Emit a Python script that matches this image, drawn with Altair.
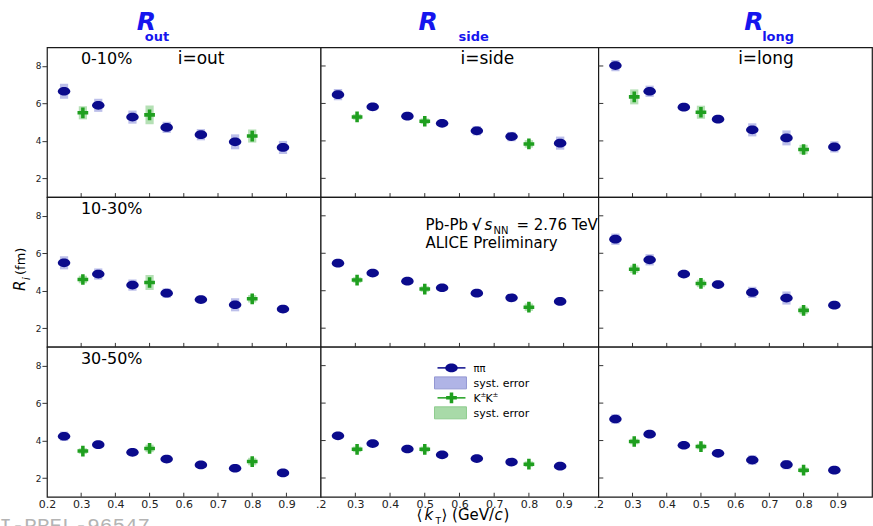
import altair as alt
import pandas as pd

COMPONENTS = ["out", "side", "long"]
CENTRALITIES = ["0-10%", "10-30%", "30-50%"]

# pair transverse momentum <kT> (GeV/c)
kt_pion = [0.25, 0.35, 0.45, 0.55, 0.65, 0.75, 0.89]
kt_kaon = [0.305, 0.50, 0.80]

# pion radii (fm), one list per centrality class
pion_out = [[6.65, 5.90, 5.27, 4.72, 4.33, 3.95, 3.65],
            [5.49, 4.89, 4.30, 3.87, 3.53, 3.25, 3.02],
            [4.23, 3.78, 3.37, 3.01, 2.70, 2.52, 2.27]]
pion_side = [[6.47, 5.82, 5.32, 4.94, 4.54, 4.23, 3.88],
             [5.47, 4.94, 4.51, 4.16, 3.87, 3.62, 3.43],
             [4.25, 3.84, 3.55, 3.24, 3.04, 2.85, 2.63]]
pion_long = [[8.02, 6.65, 5.80, 5.16, 4.59, 4.16, 3.68],
             [6.75, 5.65, 4.89, 4.33, 3.91, 3.61, 3.23],
             [5.15, 4.34, 3.75, 3.32, 2.96, 2.71, 2.42]]

# kaon radii (fm)
kaon_out = [[5.50, 5.39, 4.26], [4.60, 4.44, 3.57], [3.44, 3.58, 2.88]]
kaon_side = [[5.28, 5.05, 3.84], [4.57, 4.09, 3.12], [3.53, 3.53, 2.74]]
kaon_long = [[6.35, 5.53, 3.54], [5.15, 4.39, 2.95], [3.95, 3.68, 2.42]]

# systematic uncertainties (half height, fm)
syst_pion_out = [[0.40, 0.35, 0.35, 0.30, 0.30, 0.40, 0.35],
                 [0.35, 0.30, 0.30, 0.25, 0.20, 0.35, 0.20],
                 [0.25, 0.20, 0.20, 0.20, 0.15, 0.20, 0.15]]
syst_pion_side = [[0.30, 0.20, 0.20, 0.15, 0.25, 0.25, 0.35],
                  [0.20, 0.15, 0.15, 0.15, 0.20, 0.20, 0.20],
                  [0.15, 0.15, 0.15, 0.15, 0.15, 0.15, 0.15]]
syst_pion_long = [[0.30, 0.30, 0.20, 0.20, 0.35, 0.40, 0.30],
                  [0.30, 0.30, 0.15, 0.20, 0.30, 0.35, 0.20],
                  [0.25, 0.20, 0.15, 0.15, 0.25, 0.25, 0.20]]
syst_kaon_out = [[0.35, 0.50, 0.35], [0.20, 0.40, 0.20], [0.15, 0.20, 0.20]]
syst_kaon_side = [[0.15, 0.15, 0.20], [0.15, 0.15, 0.20], [0.15, 0.15, 0.15]]
syst_kaon_long = [[0.40, 0.35, 0.25], [0.20, 0.20, 0.20], [0.15, 0.15, 0.15]]

x_ticks = [0.2, 0.3, 0.4, 0.5, 0.6, 0.7, 0.8, 0.9]
y_ticks = [2, 4, 6, 8]

PION_R = {"out": pion_out, "side": pion_side, "long": pion_long}
KAON_R = {"out": kaon_out, "side": kaon_side, "long": kaon_long}
PION_S = {"out": syst_pion_out, "side": syst_pion_side, "long": syst_pion_long}
KAON_S = {"out": syst_kaon_out, "side": syst_kaon_side, "long": syst_kaon_long}

PANEL_W = [274, 278, 274]
PANEL_H = 150
BOX_HALF = 0.012

PION_COLOR = "#0b0b8c"
KAON_COLOR = "#1f9f1f"
PION_BAND = "#b0b4e6"
KAON_BAND = "#a8daa8"
HEADER_BLUE = "#1515ee"
FONT = "DejaVu Sans"

ELLIPSE = "M -1 0 A 1 0.7 0 1 0 1 0 A 1 0.7 0 1 0 -1 0 Z"
PLUS = ("M -1 -0.33 L -0.33 -0.33 L -0.33 -1 L 0.33 -1 L 0.33 -0.33 L 1 -0.33 "
        "L 1 0.33 L 0.33 0.33 L 0.33 1 L -0.33 1 L -0.33 0.33 L -1 0.33 Z")


def label(text, x, y, size=15, color="black", style="normal", weight="normal",
          angle=0, font=FONT):
    return alt.Chart(pd.DataFrame({"label": [text]})).mark_text(
        align="left", baseline="alphabetic", font=font, fontSize=size,
        color=color, fontStyle=style, fontWeight=weight, angle=angle,
    ).encode(x=alt.value(x), y=alt.value(y), text="label:N")


def series(kt, values, syst):
    return pd.DataFrame({
        "kt": kt,
        "R": values,
        "x_lo": [k - BOX_HALF for k in kt],
        "x_hi": [k + BOX_HALF for k in kt],
        "lo": [v - s for v, s in zip(values, syst)],
        "hi": [v + s for v, s in zip(values, syst)],
    })


def panel(r, c):
    comp = COMPONENTS[c]
    width = PANEL_W[c]
    bottom = r == 2
    left = c == 0

    xs = alt.Scale(domain=[0.2, 1.0], nice=False, zero=False)
    ys = alt.Scale(domain=[1, 9], nice=False, zero=False)
    if bottom:
        expr = ("format(datum.value, '.1f')" if left
                else "datum.value < 0.25 ? '.2' : format(datum.value, '.1f')")
        xaxis = alt.Axis(values=x_ticks, labelExpr=expr, ticks=False, domain=False,
                         grid=False, labelFontSize=11, labelFont=FONT,
                         labelColor="#222222", labelPadding=2, labelFlush=False,
                         labelOverlap=False, title=None)
    else:
        xaxis = None
    if left:
        yaxis = alt.Axis(values=y_ticks, tickSize=5, domain=False, grid=False,
                         labelFontSize=9, labelFont=FONT, labelColor="#222222",
                         labelPadding=1, tickColor="#333333", labelFlush=False,
                         title=None)
    else:
        yaxis = None

    pi = series(kt_pion, PION_R[comp][r], PION_S[comp][r])
    ka = series(kt_kaon, KAON_R[comp][r], KAON_S[comp][r])

    def boxes(df, color):
        return alt.Chart(df).mark_rect(color=color, opacity=0.85).encode(
            x=alt.X("x_lo:Q", scale=xs, axis=xaxis), x2="x_hi",
            y=alt.Y("lo:Q", scale=ys, axis=yaxis), y2="hi")

    pion_pts = alt.Chart(pi).mark_point(
        shape=ELLIPSE, filled=True, size=155, color=PION_COLOR, opacity=1
    ).encode(x=alt.X("kt:Q", scale=xs, axis=xaxis), y=alt.Y("R:Q", scale=ys, axis=yaxis))
    kaon_pts = alt.Chart(ka).mark_point(
        shape=PLUS, filled=True, size=115, color=KAON_COLOR, opacity=1
    ).encode(x=alt.X("kt:Q", scale=xs, axis=xaxis), y=alt.Y("R:Q", scale=ys, axis=yaxis))

    # inward ticks along the bottom edge
    inner_x = alt.Chart(pd.DataFrame({"t": x_ticks[1:]})).mark_rule(
        color="#333333", strokeWidth=1
    ).encode(x=alt.X("t:Q", scale=xs, axis=xaxis),
             y=alt.value(PANEL_H - 4), y2=alt.value(PANEL_H))

    layers = [boxes(pi, PION_BAND), boxes(ka, KAON_BAND), pion_pts, kaon_pts, inner_x]

    if not left:
        inner_y = alt.Chart(pd.DataFrame({"t": y_ticks})).mark_rule(
            color="#333333", strokeWidth=1
        ).encode(y=alt.Y("t:Q", scale=ys, axis=yaxis),
                 x=alt.value(0), x2=alt.value(5))
        layers.append(inner_y)

    # centrality class and component labels
    if left:
        layers.append(label(CENTRALITIES[r], 34, 17, size=16))
    if r == 0:
        layers.append(label("i=" + comp, 131 if left else 140, 17, size=17))
        head = {"out": (90, 98), "side": (98, 138), "long": (146, 164)}[comp]
        layers.append(label("R", head[0], -17, size=25, color=HEADER_BLUE,
                            style="italic", weight="bold"))
        layers.append(label(comp, head[1], -6, size=13, color=HEADER_BLUE,
                            weight="bold"))
        if left:
            # fixes the top-left corner of the drawing
            layers.append(alt.Chart(pd.DataFrame({"a": [0]})).mark_rect(opacity=0).encode(
                x=alt.value(-73), x2=alt.value(-72), y=alt.value(-46), y2=alt.value(-45)))

    if r == 1 and left:
        layers += [
            label("R", -22, 94, size=15, style="italic", angle=270),
            label("i", -17, 83, size=10, style="italic", angle=270),
            label("(fm)", -22, 78, size=13, angle=270),
        ]

    if r == 1 and c == 1:
        layers += [
            label("Pb-Pb", 105, 33, size=15),
            label("√", 151, 33, size=15, weight="bold"),
            label("s", 164, 33, size=15, style="italic"),
            label("NN", 173, 37, size=10),
            label("= 2.76 TeV", 196, 33, size=15),
            label("ALICE Preliminary", 105, 51, size=15),
        ]

    if bottom and c == 1:
        legend_pion_line = alt.Chart(pd.DataFrame({"a": [0]})).mark_rule(
            color=PION_COLOR, strokeWidth=1.5
        ).encode(x=alt.value(117), x2=alt.value(145), y=alt.value(21))
        legend_pion_pt = alt.Chart(pd.DataFrame({"a": [0]})).mark_point(
            shape=ELLIPSE, filled=True, size=155, color=PION_COLOR, opacity=1
        ).encode(x=alt.value(131), y=alt.value(21))
        legend_pion_box = alt.Chart(pd.DataFrame({"a": [0]})).mark_rect(
            color=PION_BAND, stroke="#9397d2", strokeWidth=1
        ).encode(x=alt.value(114), x2=alt.value(146), y=alt.value(30), y2=alt.value(42))
        legend_kaon_line = alt.Chart(pd.DataFrame({"a": [0]})).mark_rule(
            color=KAON_COLOR, strokeWidth=1.5
        ).encode(x=alt.value(117), x2=alt.value(145), y=alt.value(51))
        legend_kaon_pt = alt.Chart(pd.DataFrame({"a": [0]})).mark_point(
            shape=PLUS, filled=True, size=115, color=KAON_COLOR, opacity=1
        ).encode(x=alt.value(131), y=alt.value(51))
        legend_kaon_box = alt.Chart(pd.DataFrame({"a": [0]})).mark_rect(
            color=KAON_BAND, stroke="#8fcc8f", strokeWidth=1
        ).encode(x=alt.value(114), x2=alt.value(146), y=alt.value(60), y2=alt.value(72))
        layers += [
            legend_pion_line, legend_pion_pt, legend_pion_box,
            legend_kaon_line, legend_kaon_pt, legend_kaon_box,
            label("ππ", 153, 25, size=10),
            label("syst. error", 153, 40, size=11),
            label("K", 153, 55, size=11),
            label("±", 160, 50, size=7),
            label("K", 165, 55, size=11),
            label("±", 172, 50, size=7),
            label("syst. error", 153, 70, size=11),
            # axis title <kT> (GeV/c)
            label("⟨", 96, 173, size=15),
            label("k", 104, 173, size=15, style="italic"),
            label("T", 115, 177, size=9),
            label("⟩ (GeV/", 121, 173, size=15),
            label("c", 174, 173, size=15, style="italic"),
            label(")", 183, 173, size=15),
        ]

    if bottom and left:
        layers.append(label("ALI-PREL-96547", -73, 185, size=21, color="#b4b4b4",
                            font="Liberation Mono"))

    return alt.layer(*layers).properties(width=width, height=PANEL_H)


panels = [panel(r, c) for r in range(3) for c in range(3)]

chart = alt.concat(*panels, columns=3, spacing=0, bounds="flush").properties(
    padding={"left": -27, "top": 0, "right": 0, "bottom": 0},
    background="white",
).configure_view(
    stroke="#1a1a1a", strokeWidth=1.2, fill="white"
)

chart.save("out.html", embed_options={"renderer": "svg", "actions": False})
